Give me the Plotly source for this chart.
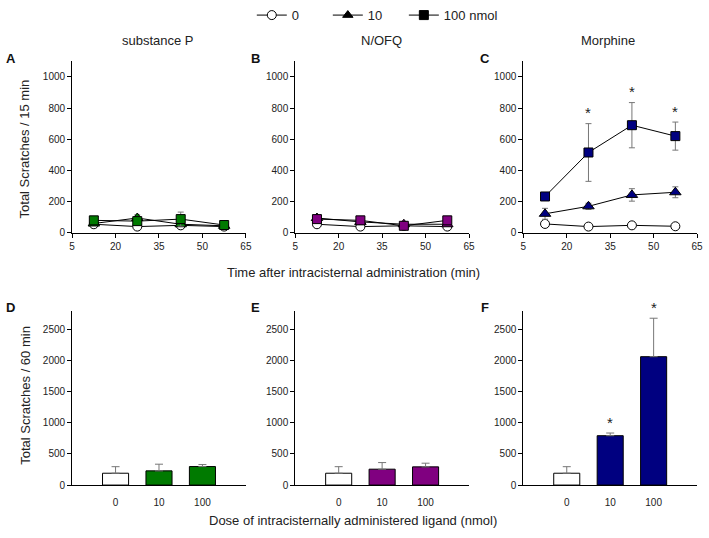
import plotly.graph_objects as go

# ---------------- data ----------------
times = [12.5, 27.5, 42.5, 57.5]

sp_0 = [55, 40, 48, 40]
sp_0_err = [10, 8, 10, 8]
sp_10 = [60, 95, 55, 45]
sp_10_err = [10, 20, 10, 8]
sp_100 = [80, 75, 88, 50]
sp_100_err = [15, 15, 45, 12]

nofq_0 = [55, 40, 45, 40]
nofq_0_err = [10, 8, 8, 8]
nofq_10 = [95, 70, 55, 55]
nofq_10_err = [15, 10, 10, 10]
nofq_100 = [88, 80, 45, 80]
nofq_100_err = [12, 12, 8, 15]

mor_0 = [57, 40, 48, 42]
mor_0_err = [15, 8, 8, 8]
mor_10 = [122, 170, 243, 260]
mor_10_err = [35, 20, 40, 35]
mor_100 = [233, 515, 690, 620]
mor_100_err = [15, 185, 145, 90]

dose_labels = ["0", "10", "100"]
dose_pos = [1, 2, 3]
sp_tot = [190, 228, 297]
sp_tot_err = [105, 107, 32]
nofq_tot = [190, 255, 292]
nofq_tot_err = [105, 106, 59]
mor_tot = [190, 792, 2060]
mor_tot_err = [105, 43, 617]

time_sig_idx = [1, 2, 3]      # asterisks on morphine 100 nmol
dose_sig_idx = [1, 2]         # asterisks on morphine bars

panel_titles = ["substance P", "N/OFQ", "Morphine"]
panel_colors = ["#007a00", "#800080", "#000080"]
top_letters = ["A", "B", "C"]
bot_letters = ["D", "E", "F"]
legend_names = ["0", "10", "100 nmol"]

# ---------------- layout geometry ----------------
W, H = 709, 538
xdoms = [(70 / W, 246 / W), (296 / W, 472 / W), (527 / W, 703 / W)]
top_dom = (1 - 232.0 / H, 1 - 56.5 / H)
bot_dom = (1 - 490.0 / H, 1 - 311.5 / H)

FONT = "Liberation Sans, Arial, sans-serif"
fig = go.Figure()

top_sets = [
    (sp_0, sp_0_err, sp_10, sp_10_err, sp_100, sp_100_err),
    (nofq_0, nofq_0_err, nofq_10, nofq_10_err, nofq_100, nofq_100_err),
    (mor_0, mor_0_err, mor_10, mor_10_err, mor_100, mor_100_err),
]
bot_sets = [(sp_tot, sp_tot_err), (nofq_tot, nofq_tot_err), (mor_tot, mor_tot_err)]

axis_common = dict(showline=True, linecolor="black", linewidth=1, ticks="outside",
                   ticklen=4, tickcolor="black", tickwidth=1, showgrid=False,
                   zeroline=False, tickfont=dict(family=FONT, size=10, color="#222"))

for i in range(3):
    xa = f"x{2*i+1}" if i > 0 else "x"
    ya = f"y{2*i+1}" if i > 0 else "y"
    xb = f"x{2*i+2}"
    yb = f"y{2*i+2}"
    col = panel_colors[i]
    v0, e0, v10, e10, v100, e100 = top_sets[i]
    err_style = dict(type="data", visible=True, color="#777777", thickness=1, width=3)
    fig.add_trace(go.Scatter(x=times, y=v0, xaxis=xa, yaxis=ya, mode="lines+markers",
                             line=dict(color="black", width=1),
                             marker=dict(symbol="circle", size=9, color="white",
                                         line=dict(color="black", width=1)),
                             error_y=dict(array=e0, **err_style), showlegend=False))
    fig.add_trace(go.Scatter(x=times, y=v10, xaxis=xa, yaxis=ya, mode="lines+markers",
                             line=dict(color="black", width=1),
                             marker=dict(symbol="triangle-up", size=10, color=col,
                                         line=dict(color="black", width=1)),
                             error_y=dict(array=e10, **err_style), showlegend=False))
    fig.add_trace(go.Scatter(x=times, y=v100, xaxis=xa, yaxis=ya, mode="lines+markers",
                             line=dict(color="black", width=1),
                             marker=dict(symbol="square", size=9, color=col,
                                         line=dict(color="black", width=1)),
                             error_y=dict(array=e100, **err_style), showlegend=False))

    tv, te = bot_sets[i]
    fig.add_trace(go.Bar(x=dose_pos, y=tv, xaxis=xb, yaxis=yb, width=0.6,
                         marker=dict(color=["white", col, col],
                                     line=dict(color="black", width=1)),
                         error_y=dict(type="data", array=te, arrayminus=[0, 0, 0],
                                      color="#777777", thickness=1, width=4),
                         showlegend=False))

    fig.layout[("xaxis" if i == 0 else f"xaxis{2*i+1}")] = dict(
        domain=xdoms[i], anchor=ya, range=[5, 65], tickvals=[5, 20, 35, 50, 65], **axis_common)
    fig.layout[("yaxis" if i == 0 else f"yaxis{2*i+1}")] = dict(
        domain=top_dom, anchor=xa, range=[0, 1100], tickvals=[0, 200, 400, 600, 800, 1000],
        **axis_common)
    fig.layout[f"xaxis{2*i+2}"] = dict(
        domain=xdoms[i], anchor=yb, range=[0, 4], tickvals=dose_pos, ticktext=dose_labels,
        **{**axis_common, "ticklen": 8, "tickcolor": "rgba(0,0,0,0)"})
    fig.layout[f"yaxis{2*i+2}"] = dict(
        domain=bot_dom, anchor=xb, range=[0, 2800], tickvals=[0, 500, 1000, 1500, 2000, 2500],
        **axis_common)

    # titles and letters
    fig.add_annotation(x=[157, 383, 613][i] / W, y=1 - 35 / H,
                       xref="paper", yref="paper", text=panel_titles[i], showarrow=False,
                       xanchor="center", yanchor="middle",
                       font=dict(family=FONT, size=13, color="#222"))
    lx = [8, 256, 488][i] / W
    fig.add_annotation(x=lx, y=1 - 54 / H, xref="paper", yref="paper",
                       text=f"<b>{top_letters[i]}</b>", showarrow=False,
                       xanchor="center", yanchor="middle",
                       font=dict(family=FONT, size=13, color="#111"))
    fig.add_annotation(x=lx, y=1 - 308 / H, xref="paper", yref="paper",
                       text=f"<b>{bot_letters[i]}</b>", showarrow=False,
                       xanchor="center", yanchor="middle",
                       font=dict(family=FONT, size=13, color="#111"))

# asterisks
for j in time_sig_idx:
    fig.add_annotation(x=times[j], y=mor_100[j] + mor_100_err[j], xref="x5", yref="y5",
                       text="*", showarrow=False, yshift=11, yanchor="middle",
                       font=dict(family=FONT, size=15, color="#222"))
for j in dose_sig_idx:
    fig.add_annotation(x=dose_pos[j], y=mor_tot[j] + mor_tot_err[j], xref="x6", yref="y6",
                       text="*", showarrow=False, yshift=11, yanchor="middle",
                       font=dict(family=FONT, size=15, color="#222"))

# legend proxies, each in its own legend for exact spacing
leg_syms = [("circle", "white"), ("triangle-up", "black"), ("square", "black")]
leg_ids = ["legend", "legend2", "legend3"]
leg_x = [252, 329, 406]
for name, (sym, fc), lid in zip(legend_names, leg_syms, leg_ids):
    fig.add_trace(go.Scatter(x=[None], y=[None], mode="lines+markers", name=name,
                             line=dict(color="black", width=1), legend=lid,
                             marker=dict(symbol=sym, size=9, color=fc,
                                         line=dict(color="black", width=1)),
                             showlegend=True))
for lid, lx in zip(leg_ids, leg_x):
    fig.layout[lid] = dict(orientation="h", x=lx / W, xanchor="left", y=1 + 6 / H,
                           yanchor="top",
                           font=dict(family=FONT, size=13, color="#222"),
                           bgcolor="rgba(0,0,0,0)", borderwidth=0)

# axis titles
fig.add_annotation(x=22 / W, y=1 - 146 / H, xref="paper", yref="paper",
                   text="Total Scratches / 15 min", textangle=-90, showarrow=False,
                   xanchor="center", yanchor="middle",
                   font=dict(family=FONT, size=13, color="#222"))
fig.add_annotation(x=22 / W, y=1 - 398 / H, xref="paper", yref="paper",
                   text="Total Scratches / 60 min", textangle=-90, showarrow=False,
                   xanchor="center", yanchor="middle",
                   font=dict(family=FONT, size=13, color="#222"))
fig.add_annotation(x=355 / W, y=1 - 273 / H, xref="paper", yref="paper",
                   text="Time after intracisternal administration (min)", showarrow=False,
                   xanchor="center", yanchor="middle",
                   font=dict(family=FONT, size=13, color="#222"))
fig.add_annotation(x=355 / W, y=1 - 526 / H, xref="paper", yref="paper",
                   text="Dose of intracisternally administered ligand (nmol)", showarrow=False,
                   xanchor="center", yanchor="middle",
                   font=dict(family=FONT, size=13, color="#222"))

fig.update_layout(
    width=W, height=H, margin=dict(l=0, r=0, t=0, b=0),
    paper_bgcolor="white", plot_bgcolor="white",
    font=dict(family=FONT, color="#222"),
)

fig.write_html("out.html", config={"displayModeBar": False},
               post_script="document.body.style.margin='0';")
